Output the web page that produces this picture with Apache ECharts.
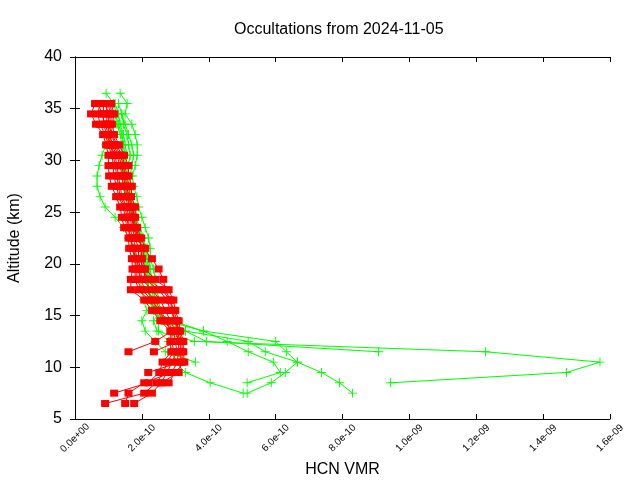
<!DOCTYPE html>
<html><head><meta charset="utf-8">
<script src="https://cdn.jsdelivr.net/npm/echarts@6/dist/echarts.min.js"></script>
<style>html,body{margin:0;padding:0;background:#fff}#c{width:640px;height:480px}</style>
</head><body><div id="c"></div>
<script>
// Altitudes (km), ascending
const altitudes = [6.5,7.5,8.5,9.5,10.5,11.5,12.5,13.5,14.5,15.5,16.5,17.5,18.5,19.5,20.5,21.5,22.5,23.5,24.5,25.5,26.5,27.5,28.5,29.5,30.5,31.5,32.5,33.5,34.5,35.5,36.5];
// X tick labels (axis values are in units of 1e-10)
const xTickLabels = ["0.0e+00","2.0e-10","4.0e-10","6.0e-10","8.0e-10","1.0e-09","1.2e-09","1.4e-09","1.6e-09"];
const yTicks = [5,10,15,20,25,30,35,40];

// Red profiles, values in 1e-10, listed top-down from 36.5 km to 6.5 km (null = no data)
const red1 = [null,0.60,0.48,0.63,0.84,0.93,1.00,1.00,1.02,1.10,1.23,1.35,1.40,1.47,1.60,1.62,1.70,1.72,1.67,1.67,2.07,2.30,2.55,2.85,2.85,2.88,2.62,2.52,2.19,1.17,null];
const red2 = [null,0.75,0.68,0.75,0.90,1.00,1.10,1.15,1.15,1.25,1.30,1.45,1.50,1.55,1.70,1.70,1.80,1.80,1.80,1.90,2.20,2.45,2.65,2.90,2.90,2.95,2.75,2.65,2.43,2.07,0.90];
const red3 = [null,0.85,0.85,0.85,0.95,1.05,1.20,1.25,1.30,1.35,1.40,1.55,1.60,1.62,1.75,1.80,1.85,1.90,1.95,2.10,2.40,2.55,2.75,2.95,3.00,3.05,2.90,2.75,2.58,2.30,1.77];
const red4 = [null,0.95,0.95,0.95,1.05,1.10,1.25,1.35,1.40,1.45,1.50,1.60,1.65,1.70,1.80,1.90,1.90,1.95,2.00,2.30,2.55,2.70,2.85,3.00,3.10,3.10,3.05,2.90,2.07,1.60,1.50];
const red5 = [null,1.05,1.10,1.05,1.10,1.20,1.35,1.45,1.50,1.55,1.60,1.70,1.72,1.78,1.90,2.00,1.95,2.05,2.10,2.50,2.75,2.85,3.00,3.10,3.20,3.20,3.20,3.10,2.58,null,null];
const red6 = [null,1.08,1.17,1.11,1.17,1.32,1.47,1.60,1.60,1.70,1.68,1.80,1.80,1.86,1.98,2.10,2.00,2.10,2.40,2.80,2.94,3.00,3.10,3.15,3.24,3.24,3.27,3.00,2.80,null,null];
const red7 = [null,0.90,1.00,1.00,1.00,1.15,1.30,1.40,1.45,1.50,1.55,1.65,1.70,1.75,1.85,2.05,2.30,2.50,2.64,2.70,2.85,2.90,3.00,3.05,3.15,3.15,3.15,2.19,null,null,null];
const red8 = [null,0.70,0.80,0.90,1.00,1.05,1.15,1.20,1.25,1.30,1.35,1.50,1.55,1.60,1.65,1.75,1.80,1.85,1.85,2.00,2.30,2.50,2.70,2.90,2.40,1.60,null,null,null,null,null];
const red9 = [null,1.00,1.05,0.98,1.12,1.25,1.40,1.50,1.55,1.62,1.62,1.75,1.75,1.82,1.92,2.00,1.98,2.00,2.20,2.60,2.85,2.95,3.05,3.10,3.05,2.36,null,null,null,null,null];

// Green profiles, same layout (36.5 km -> 6.5 km)
const green1 = [0.93,1.15,1.25,1.15,1.05,0.92,0.81,0.72,0.66,0.66,0.75,0.90,1.20,1.45,1.60,1.75,1.85,1.90,1.95,2.00,2.05,2.15,2.00,2.10,2.40,2.70,3.60,null,null,null,null];
const green2 = [1.35,1.56,1.50,1.70,1.80,1.86,1.86,1.80,1.72,1.75,1.85,1.90,2.00,2.10,2.20,2.25,2.25,2.35,2.40,2.45,2.50,2.55,2.35,2.45,3.57,12.28,15.70,14.70,9.44,null,null];
const green3 = [null,1.30,1.40,1.45,1.55,1.60,1.65,1.60,1.55,1.60,1.65,1.75,1.80,1.95,2.05,2.10,2.15,2.20,2.25,2.30,2.35,2.40,2.60,3.30,3.93,9.08,null,null,null,null,null];
const green4 = [null,1.20,1.30,1.35,1.45,1.50,1.55,1.50,1.50,1.55,1.60,1.70,1.75,1.85,1.95,2.05,2.10,2.15,2.20,2.20,2.25,2.30,2.70,3.84,6.00,6.32,6.65,7.37,7.91,8.30,null];
const green5 = [null,null,1.40,1.50,1.60,1.70,1.75,1.70,1.65,1.65,1.70,1.80,1.85,1.90,2.00,2.15,2.20,2.25,2.30,2.35,2.40,2.45,2.80,3.30,5.18,5.69,6.65,6.29,5.87,5.15,null];
const green6 = [null,null,null,1.25,1.35,1.40,1.45,1.40,1.40,1.45,1.55,1.65,1.70,1.80,1.90,2.00,2.05,2.10,2.15,2.20,2.25,2.35,2.90,3.84,4.55,5.18,5.93,6.14,5.15,null,null];
const green7 = [null,null,1.20,1.30,1.40,1.45,1.50,1.45,1.45,1.50,1.60,1.65,1.70,1.75,1.90,2.00,2.05,2.10,2.15,2.20,2.30,2.45,2.50,2.50,2.80,2.90,3.00,3.30,4.04,5.03,null];

const redProfiles = [red1,red2,red3,red4,red5,red6,red7,red8,red9];
const greenProfiles = [green1,green2,green3,green4,green5,green6,green7];

const altTopDown = altitudes.slice().reverse();
function toPoints(p){
  const pts = [];
  p.forEach((v,i)=>{ if(v!==null) pts.push([v, altTopDown[i]]); });
  return pts;
}
const plusPath = 'path://M4.5,0H5.5V4.5H10V5.5H5.5V10H4.5V5.5H0V4.5H4.5Z';

const series = [];
greenProfiles.forEach(p=>series.push({
  type:'line', data:toPoints(p), xAxisIndex:0, yAxisIndex:0,
  symbol:plusPath, symbolSize:9, showSymbol:true,
  lineStyle:{color:'#00ff00', width:1}, itemStyle:{color:'#00ff00'},
  animation:false, silent:true, z:2
}));
redProfiles.forEach(p=>series.push({
  type:'line', data:toPoints(p), xAxisIndex:0, yAxisIndex:0,
  symbol:'rect', symbolSize:[8,7], showSymbol:true,
  lineStyle:{color:'#ff0000', width:1}, itemStyle:{color:'#ff0000'},
  animation:false, silent:true, z:3
}));

const font = 'Liberation Sans, Arial, sans-serif';
const chart = echarts.init(document.getElementById('c'), null, {renderer:'canvas'});
chart.setOption({
  backgroundColor:'#ffffff',
  animation:false,
  title:{text:'Occultations from 2024-11-05', left:229, top:17,
    textStyle:{fontFamily:font, fontSize:16, fontWeight:'normal', color:'#000'}},
  grid:{left:75, right:30, top:57, bottom:61, show:false, containLabel:false, outerBoundsMode:'none'},
  xAxis:[{
    type:'value', min:0, max:16, interval:2, position:'bottom',
    name:'HCN VMR', nameLocation:'middle', nameGap:38,
    nameTextStyle:{fontFamily:font, fontSize:16, color:'#000'},
    axisLine:{show:true, lineStyle:{color:'#000', width:1}},
    axisTick:{show:true, inside:true, length:5, lineStyle:{color:'#000'}},
    axisLabel:{rotate:45, fontFamily:font, fontSize:10, color:'#000', margin:19,
      align:'center', verticalAlign:'middle',
      formatter:(v)=>xTickLabels[Math.round(v/2)]},
    splitLine:{show:false}
  },{
    type:'value', min:0, max:16, interval:2, position:'top',
    axisLine:{show:true, lineStyle:{color:'#000', width:1}},
    axisTick:{show:true, inside:true, length:5, lineStyle:{color:'#000'}},
    axisLabel:{show:false}, splitLine:{show:false}
  }],
  yAxis:[{
    type:'value', min:5, max:40, interval:5, position:'left',
    name:'Altitude (km)', nameLocation:'middle', nameGap:52, nameRotate:90,
    nameTextStyle:{fontFamily:font, fontSize:16, color:'#000'},
    axisLine:{show:true, lineStyle:{color:'#000', width:1}},
    axisTick:{show:true, inside:true, length:5, lineStyle:{color:'#000'}},
    axisLabel:{fontFamily:font, fontSize:16, color:'#000', margin:13,
      formatter:(v)=> yTicks.includes(v) ? String(v) : ''},
    splitLine:{show:false}
  },{
    type:'value', min:5, max:40, interval:5, position:'right',
    axisLine:{show:true, lineStyle:{color:'#000', width:1}},
    axisTick:{show:true, inside:true, length:5, lineStyle:{color:'#000'}},
    axisLabel:{show:false}, splitLine:{show:false}
  }],
  series: series
});
</script>
</body></html>
